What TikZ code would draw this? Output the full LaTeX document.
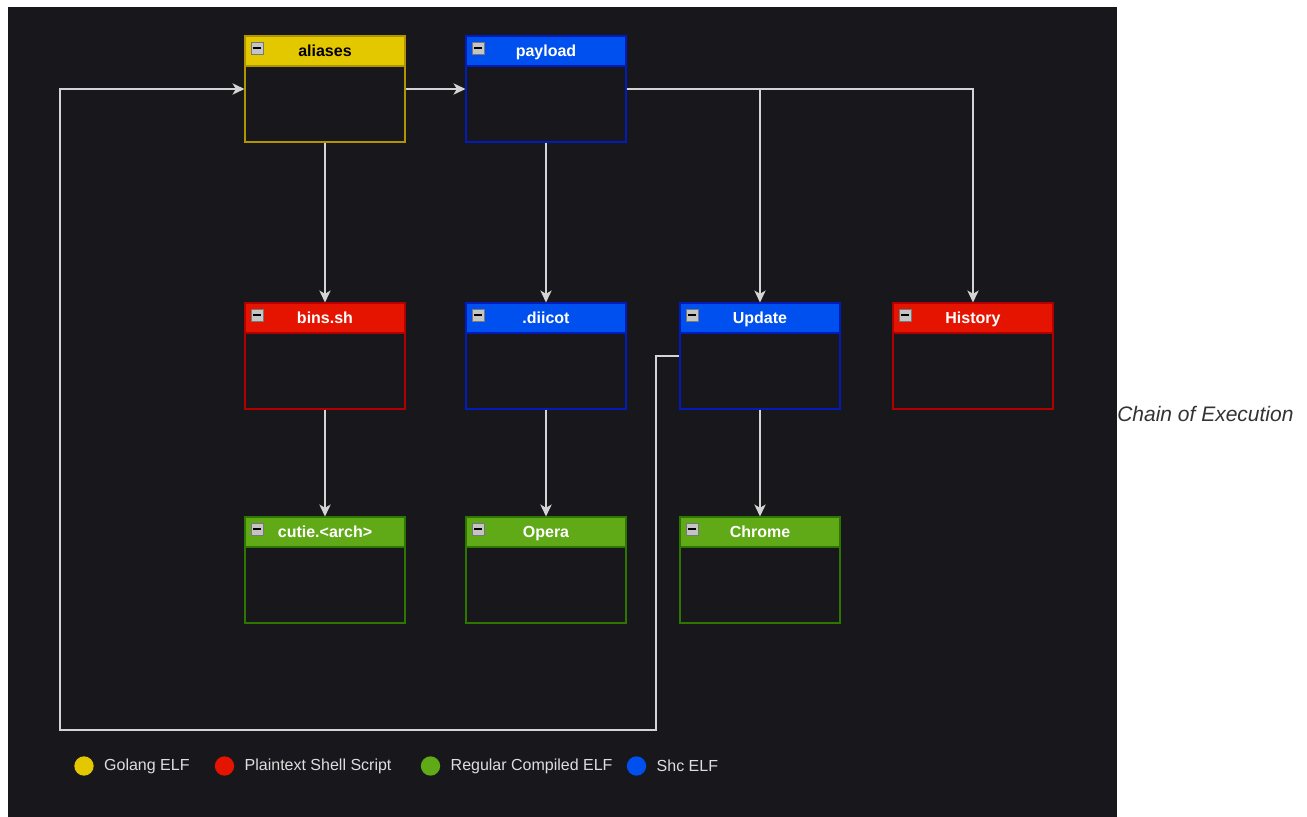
\documentclass[tikz,border=0pt]{standalone}
\usepackage{fontspec}
\setmainfont{Liberation Sans}
\usepackage{xcolor}
\usepackage{tikz}
\usetikzlibrary{arrows.meta,positioning,calc}
\definecolor{bgdark}   {RGB}{24,23,28}
\definecolor{golangfill}{RGB}{227,200,0}
\definecolor{golangrim} {RGB}{176,149,0}
\definecolor{shellfill} {RGB}{229,20,0}
\definecolor{shellrim}  {RGB}{178,0,0}
\definecolor{elffill}   {RGB}{96,169,23}
\definecolor{elfrim}    {RGB}{45,118,0}
\definecolor{shcfill}   {RGB}{0,80,239}
\definecolor{shcrim}    {RGB}{0,29,188}
\definecolor{wiregray}  {RGB}{212,212,212}
\definecolor{legendgray}{RGB}{222,222,222}
\definecolor{captiongray}{RGB}{51,51,51}
\definecolor{icongray}  {RGB}{196,196,196}
\definecolor{iconrim}   {RGB}{120,120,120}
\tikzset{
  boxbody/.style={draw, fill=bgdark, line width=0.8pt,
                  minimum width=120pt, minimum height=79.5pt, inner sep=0pt},
  boxhead/.style={draw, line width=0.8pt, anchor=north, inner sep=0pt,
                  minimum width=120pt, minimum height=22.5pt,
                  text height=10pt, text depth=1.2pt,
                  font=\fontsize{12}{14}\selectfont\bfseries, text=white,
                  path picture={
                    \draw[draw=iconrim, fill=icongray, line width=0.5pt]
                      ([shift={(4.5pt,-4.5pt)}]path picture bounding box.north west)
                      rectangle ++(9.5pt,-9.5pt);
                    \draw[black, line width=1.3pt]
                      ([shift={(6.3pt,-9.25pt)}]path picture bounding box.north west)
                      -- ++(5.9pt,0);}},
  golang/.style ={draw=golangrim, fill=golangfill},
  shell/.style  ={draw=shellrim,  fill=shellfill},
  compiled/.style={draw=elfrim,   fill=elffill},
  shc/.style    ={draw=shcrim,    fill=shcfill},
  arr/.style    ={-{Stealth[length=9pt,width=8.5pt,inset=2.5pt]}, draw=wiregray,
                  line width=1.1pt},
  legdot/.style ={circle, minimum size=14.5pt, inner sep=0pt},
  legtext/.style={inner sep=0pt, text=legendgray,
                  font=\fontsize{12}{14}\selectfont},
}
\begin{document}
\begin{tikzpicture}[x=0.75pt,y=-0.75pt]
  \useasboundingbox (0,0) rectangle (1307,817);
  \fill[white] (0,0) rectangle (1307,817);
  \fill[bgdark] (8,7) rectangle (1117,817);

  %% top row
  \node[boxbody, draw=golangrim] (aliases) at (325,89) {};
  \node[boxhead, golang, text=black] (aliasesh) at (aliases.north) {aliases};
  \node[boxbody, draw=shcrim] (payload) at (546,89) {};
  \node[boxhead, shc] (payloadh) at (payload.north) {payload};

  %% middle row
  \node[boxbody, draw=shellrim] (bins) at (325,356) {};
  \node[boxhead, shell] (binsh) at (bins.north) {bins.sh};
  \node[boxbody, draw=shcrim] (diicot) at (546,356) {};
  \node[boxhead, shc] (diicoth) at (diicot.north) {.diicot};
  \node[boxbody, draw=shcrim] (update) at (760,356) {};
  \node[boxhead, shc] (updateh) at (update.north) {Update};
  \node[boxbody, draw=shellrim] (history) at (973,356) {};
  \node[boxhead, shell] (historyh) at (history.north) {History};

  %% bottom row
  \node[boxbody, draw=elfrim] (cutie) at (325,570) {};
  \node[boxhead, compiled] (cutieh) at (cutie.north) {cutie.<arch>};
  \node[boxbody, draw=elfrim] (opera) at (546,570) {};
  \node[boxhead, compiled] (operah) at (opera.north) {Opera};
  \node[boxbody, draw=elfrim] (chrome) at (760,570) {};
  \node[boxhead, compiled] (chromeh) at (chrome.north) {Chrome};

  %% execution chain
  \draw[arr] (aliases) -- (payload);
  \draw[arr] (aliases) -- (bins);
  \draw[arr] (payload) -- (diicot);
  \draw[arr] (payload.east) -| (update.north);
  \draw[arr] (payload.east) -| (history.north);
  \draw[arr] (bins) -- (cutie);
  \draw[arr] (diicot) -- (opera);
  \draw[arr] (update) -- (chrome);
  \coordinate (loopturn) at (656,730);
  \coordinate (loopcorner) at (60,730);
  \draw[arr] (update.west) -| (loopturn) -- (loopcorner) |- (aliases.west);

  %% legend
  \node[legdot, fill=golangfill] (dotgo) at (84,766) {};
  \node[legtext, right=7.5pt of dotgo] (txtgo) {Golang ELF};
  \node[legdot, fill=shellfill] (dotsh) at (224.5,766) {};
  \node[legtext, right=7.5pt of dotsh] (txtsh) {Plaintext Shell Script};
  \node[legdot, fill=elffill] (dotelf) at (430.5,766) {};
  \node[legtext, right=7.5pt of dotelf] (txtelf) {Regular Compiled ELF};
  \node[legdot, fill=shcfill] (dotshc) at (636.5,766) {};
  \node[legtext, right=7.5pt of dotshc] (txtshc) {Shc ELF};

  \node[anchor=west, inner sep=0pt, text=captiongray,
        font=\fontsize{15.75}{18}\selectfont\itshape] (caption) at (1117,414)
        {Chain of Execution};
\end{tikzpicture}
\end{document}
